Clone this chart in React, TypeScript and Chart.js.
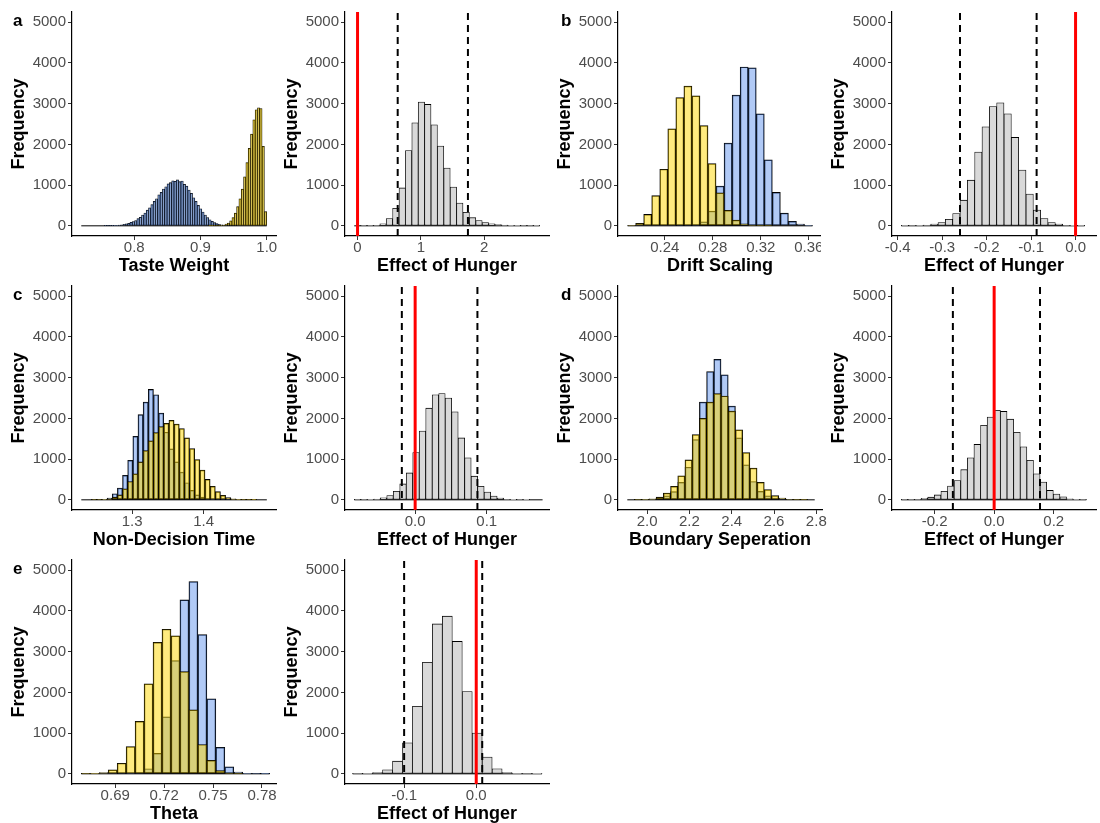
import React, { useEffect, useRef } from "react";
import { Chart, registerables } from "chart.js";

Chart.register(...registerables);

const FONT = '"Liberation Sans", Arial, Helvetica, sans-serif';
const TICK_GREY = "#4D4D4D";
const BLUE_FILL = "rgba(100, 149, 237, 0.5)";
const YELLOW_FILL = "rgba(255, 215, 0, 0.5)";
const GREY_FILL = "rgb(217, 217, 217)";

// Shared frequency axis
const frequencyTicks = [0, 1000, 2000, 3000, 4000, 5000];
const frequencyMin = -250;
const frequencyMax = 5250;

// a — taste weight
const tasteWeightStart = 0.72;
const tasteWeightBin = 0.0035;
const tasteWeightBlue = [
  0, 0, 0, 0, 0, 0, 0, 0, 0, 0,
  1, 2, 4, 6, 9, 13, 18, 26, 36, 48,
  62, 85, 105, 130, 175, 210, 265, 315, 385, 440,
  520, 600, 665, 760, 820, 905, 960, 1030, 1060, 1105,
  1095, 1130, 1085, 1100, 1020, 975, 880, 800, 690, 600,
  500, 420, 340, 265, 205, 150, 110, 80, 55, 38,
  25, 16, 10, 6, 3, 2, 1, 0, 0, 0,
  0, 0, 0, 0, 0, 0, 0, 0, 0, 0,
];
const tasteWeightYellow = [
  0, 0, 0, 0, 0, 0, 0, 0, 0, 0,
  0, 0, 0, 0, 0, 0, 0, 0, 0, 0,
  0, 0, 0, 0, 0, 0, 0, 0, 0, 0,
  0, 0, 0, 0, 0, 0, 0, 0, 0, 0,
  0, 0, 0, 0, 0, 0, 0, 0, 0, 0,
  0, 0, 0, 0, 0, 1, 1, 2, 3, 5,
  10, 20, 40, 70, 120, 200, 310, 470, 660, 900,
  1200, 1550, 1900, 2250, 2600, 2850, 2900, 2880, 1950, 350,
];
const tasteWeightTicks = [0.8, 0.9, 1.0];
const tasteWeightLabels = ["0.8", "0.9", "1.0"];
const tasteWeightRange = [0.706, 1.014];

const tasteEffectStart = -0.052;
const tasteEffectBin = 0.101;
const tasteEffectCounts = [
  0, 2, 5, 15, 50, 180, 430, 930, 1850, 2530, 3040, 2980, 2480, 1960, 1420,
  950, 560, 330, 200, 130, 80, 50, 30, 20, 12, 8, 5, 3, 2,
];
const tasteEffectTicks = [0, 1, 2];
const tasteEffectLabels = ["0", "1", "2"];
const tasteEffectRange = [-0.198, 3.023];
const tasteEffectInterval = [0.634, 1.743];

// b — drift scaling
const driftStart = 0.209;
const driftBin = 0.0067;
const driftBlue = [
  0, 0, 0, 0, 0, 0, 2, 5, 25, 100, 360, 975, 2030, 3210, 3900, 3880, 2750,
  1620, 820, 310, 110, 40, 10,
];
const driftYellow = [
  15, 60, 280, 740, 1390, 2380, 3150, 3430, 3190, 2460, 1530, 810, 380, 140,
  50, 15, 5, 2, 0, 0, 0, 0, 0,
];
const driftTicks = [0.24, 0.28, 0.32, 0.36];
const driftLabels = ["0.24", "0.28", "0.32", "0.36"];
const driftRange = [0.201, 0.371];

const driftEffectStart = -0.392;
const driftEffectBin = 0.0165;
const driftEffectCounts = [
  2, 5, 10, 20, 40, 80, 160, 300, 630, 1120, 1810, 2430, 2930, 3020, 2750,
  2170, 1370, 780, 385, 180, 80, 40, 15, 6, 2,
];
const driftEffectTicks = [-0.4, -0.3, -0.2, -0.1, 0];
const driftEffectLabels = ["-0.4", "-0.3", "-0.2", "-0.1", "0.0"];
const driftEffectRange = [-0.413, 0.046];
const driftEffectInterval = [-0.26, -0.0876];

// c — non-decision time
const ndtStart = 1.229;
const ndtBin = 0.0072;
const ndtBlue = [
  0, 0, 2, 5, 15, 40, 150, 290, 600, 970, 1560, 2090, 2400, 2710, 2580, 2130,
  1660, 1250, 930, 680, 420, 230, 120, 65, 25, 10, 5, 2, 1, 0, 0, 0, 0, 0, 0, 0,
];
const ndtYellow = [
  0, 0, 2, 5, 10, 25, 65, 120, 270, 450, 640, 930, 1210, 1450, 1650, 1800,
  1880, 1950, 1860, 1750, 1520, 1260, 990, 730, 500, 330, 200, 110, 55, 25, 10,
  4, 2, 1, 0, 0,
];
const ndtTicks = [1.3, 1.4];
const ndtLabels = ["1.3", "1.4"];
const ndtRange = [1.216, 1.501];

const ndtEffectStart = -0.085;
const ndtEffectBin = 0.00907;
const ndtEffectCounts = [
  2, 4, 8, 20, 50, 105, 210, 390, 660, 1160, 1690, 2250, 2580, 2610, 2500,
  2160, 1520, 1030, 580, 330, 190, 90, 40, 15, 6, 3, 1, 0, 0,
];
const ndtEffectTicks = [0, 0.1];
const ndtEffectLabels = ["0.0", "0.1"];
const ndtEffectRange = [-0.098, 0.187];
const ndtEffectInterval = [-0.0186, 0.087];

// d — boundary separation
const boundaryStart = 1.906;
const boundaryBin = 0.0341;
const boundaryBlue = [
  0, 2, 5, 15, 40, 100, 200, 430, 800, 1480, 2400, 3150, 3450, 3070, 2300,
  1520, 860, 450, 210, 100, 40, 15, 5, 2, 0, 0,
];
const boundaryYellow = [
  0, 2, 8, 25, 65, 165, 330, 590, 980, 1600, 2000, 2400, 2610, 2550, 2180,
  1720, 1160, 780, 430, 250, 105, 40, 15, 5, 2, 0,
];
const boundaryTicks = [2.0, 2.2, 2.4, 2.6, 2.8];
const boundaryLabels = ["2.0", "2.2", "2.4", "2.6", "2.8"];
const boundaryRange = [1.862, 2.827];

const boundaryEffectStart = -0.312;
const boundaryEffectBin = 0.0222;
const boundaryEffectCounts = [
  2, 5, 15, 35, 65, 120, 210, 340, 475, 740, 1030, 1360, 1830, 2030, 2200,
  2170, 1980, 1660, 1300, 970, 640, 435, 230, 140, 75, 25, 10, 3,
];
const boundaryEffectTicks = [-0.2, 0, 0.2];
const boundaryEffectLabels = ["-0.2", "0.0", "0.2"];
const boundaryEffectRange = [-0.343, 0.342];
const boundaryEffectInterval = [-0.1386, 0.154];

// e — theta
const thetaStart = 0.6692;
const thetaBin = 0.0055;
const thetaBlue = [
  0, 0, 0, 0, 3, 10, 30, 125, 500, 1400, 2780, 4270, 4720, 3420, 1840, 650,
  170, 40, 10, 3, 1,
];
const thetaYellow = [
  3, 10, 30, 100, 260, 670, 1290, 2210, 3230, 3550, 3390, 2510, 1570, 720,
  330, 80, 20, 5, 0, 0, 0,
];
const thetaTicks = [0.69, 0.72, 0.75, 0.78];
const thetaLabels = ["0.69", "0.72", "0.75", "0.78"];
const thetaRange = [0.6635, 0.7886];

const thetaEffectStart = -0.1714;
const thetaEffectBin = 0.01382;
const thetaEffectCounts = [
  3, 10, 30, 100, 310, 760, 1660, 2740, 3680, 3870, 3250, 2020, 1000, 410,
  125, 30, 10, 3, 1,
];
const thetaEffectTicks = [-0.1, 0];
const thetaEffectLabels = ["-0.1", "0.0"];
const thetaEffectRange = [-0.182, 0.1009];
const thetaEffectInterval = [-0.1, 0.0083];

const noEffect = 0;

// Page grid
const COLUMN_LEFT = [0, 273, 546, 820];
const COLUMN_W = [283, 283, 283, 280];
const ROW_TOP = [0, 274, 548];
const CELL_H = 280;
const AXIS_W = 72;
const PLOT_W = 204;
const PLOT_TOP = 12;
const PLOT_H = 224;
const X_AXIS_H = CELL_H - PLOT_TOP - PLOT_H;

type Series = { counts: number[]; fill: string };
type PanelSpec = {
  col: number;
  row: number;
  xTitle: string;
  range: number[];
  ticks: number[];
  labels: string[];
  start: number;
  bin: number;
  series: Series[];
  border: number;
  interval?: number[];
  visibleW?: number;
};

const panels: PanelSpec[] = [
  {
    col: 0, row: 0, xTitle: "Taste Weight", range: tasteWeightRange,
    ticks: tasteWeightTicks, labels: tasteWeightLabels,
    start: tasteWeightStart, bin: tasteWeightBin, border: 0.5,
    series: [
      { counts: tasteWeightBlue, fill: BLUE_FILL },
      { counts: tasteWeightYellow, fill: YELLOW_FILL },
    ],
  },
  {
    col: 1, row: 0, xTitle: "Effect of Hunger", range: tasteEffectRange,
    ticks: tasteEffectTicks, labels: tasteEffectLabels,
    start: tasteEffectStart, bin: tasteEffectBin, border: 0.8,
    series: [{ counts: tasteEffectCounts, fill: GREY_FILL }],
    interval: tasteEffectInterval,
  },
  {
    col: 2, row: 0, xTitle: "Drift Scaling", range: driftRange,
    ticks: driftTicks, labels: driftLabels,
    start: driftStart, bin: driftBin, border: 0.8,
    series: [
      { counts: driftBlue, fill: BLUE_FILL },
      { counts: driftYellow, fill: YELLOW_FILL },
    ],
    // the neighbouring panel covers the tail of the last tick label
    visibleW: 275,
  },
  {
    col: 3, row: 0, xTitle: "Effect of Hunger", range: driftEffectRange,
    ticks: driftEffectTicks, labels: driftEffectLabels,
    start: driftEffectStart, bin: driftEffectBin, border: 0.8,
    series: [{ counts: driftEffectCounts, fill: GREY_FILL }],
    interval: driftEffectInterval,
  },
  {
    col: 0, row: 1, xTitle: "Non-Decision Time", range: ndtRange,
    ticks: ndtTicks, labels: ndtLabels,
    start: ndtStart, bin: ndtBin, border: 0.8,
    series: [
      { counts: ndtBlue, fill: BLUE_FILL },
      { counts: ndtYellow, fill: YELLOW_FILL },
    ],
  },
  {
    col: 1, row: 1, xTitle: "Effect of Hunger", range: ndtEffectRange,
    ticks: ndtEffectTicks, labels: ndtEffectLabels,
    start: ndtEffectStart, bin: ndtEffectBin, border: 0.8,
    series: [{ counts: ndtEffectCounts, fill: GREY_FILL }],
    interval: ndtEffectInterval,
  },
  {
    col: 2, row: 1, xTitle: "Boundary Seperation", range: boundaryRange,
    ticks: boundaryTicks, labels: boundaryLabels,
    start: boundaryStart, bin: boundaryBin, border: 0.8,
    series: [
      { counts: boundaryBlue, fill: BLUE_FILL },
      { counts: boundaryYellow, fill: YELLOW_FILL },
    ],
  },
  {
    col: 3, row: 1, xTitle: "Effect of Hunger", range: boundaryEffectRange,
    ticks: boundaryEffectTicks, labels: boundaryEffectLabels,
    start: boundaryEffectStart, bin: boundaryEffectBin, border: 0.8,
    series: [{ counts: boundaryEffectCounts, fill: GREY_FILL }],
    interval: boundaryEffectInterval,
  },
  {
    col: 0, row: 2, xTitle: "Theta", range: thetaRange,
    ticks: thetaTicks, labels: thetaLabels,
    start: thetaStart, bin: thetaBin, border: 0.8,
    series: [
      { counts: thetaBlue, fill: BLUE_FILL },
      { counts: thetaYellow, fill: YELLOW_FILL },
    ],
  },
  {
    col: 1, row: 2, xTitle: "Effect of Hunger", range: thetaEffectRange,
    ticks: thetaEffectTicks, labels: thetaEffectLabels,
    start: thetaEffectStart, bin: thetaEffectBin, border: 0.8,
    series: [{ counts: thetaEffectCounts, fill: GREY_FILL }],
    interval: thetaEffectInterval,
  },
];

const panelLetters = [
  { text: "a", left: 13, top: 12 },
  { text: "b", left: 561, top: 12 },
  { text: "c", left: 13, top: 286 },
  { text: "d", left: 561, top: 286 },
  { text: "e", left: 13, top: 560 },
];

function vertical(x: number, color: string, width: number, dash: number[]) {
  return {
    type: "line",
    data: [
      { x, y: frequencyMin },
      { x, y: frequencyMax },
    ],
    borderColor: color,
    borderWidth: width,
    borderDash: dash,
    pointRadius: 0,
    order: 0,
  };
}

function buildConfig(p: PanelSpec): any {
  const n = p.series[0].counts.length;
  const centre = (i: number) => p.start + p.bin * (i + 0.5);
  const cellW = COLUMN_W[p.col];
  const datasets: any[] = [];

  // zero-count bins show as a flat line along the baseline
  datasets.push({
    type: "line",
    data: [
      { x: p.start, y: 0 },
      { x: p.start + p.bin * n, y: 0 },
    ],
    borderColor: "#000",
    borderWidth: 1,
    pointRadius: 0,
    order: 5,
  });

  p.series.forEach((s, k) => {
    datasets.push({
      type: "bar",
      data: s.counts.map((y, i) => ({ x: centre(i), y })),
      backgroundColor: s.fill,
      borderColor: "#000",
      borderWidth: p.border,
      borderSkipped: false,
      grouped: false,
      barPercentage: 1,
      categoryPercentage: 1,
      order: p.series.length - k,
    });
  });

  if (p.interval) {
    p.interval.forEach((x) => datasets.push(vertical(x, "#000", 2, [7, 5])));
    datasets.push(vertical(noEffect, "#FF0000", 3, []));
  }

  const tickFont = { family: FONT, size: 15, lineHeight: 1 };
  const titleFont = { family: FONT, size: 18, weight: "bold", lineHeight: 1 };
  const grid = {
    display: true,
    drawOnChartArea: false,
    drawTicks: true,
    tickLength: 4,
    tickColor: "#333333",
    tickWidth: 1,
    offset: false,
  };
  const border = { display: true, color: "#000", width: 1.2 };

  return {
    type: "bar",
    data: { datasets },
    options: {
      responsive: false,
      animation: false,
      events: [],
      layout: {
        padding: { left: 0, top: PLOT_TOP, right: cellW - AXIS_W - PLOT_W, bottom: 0 },
      },
      plugins: {
        legend: { display: false },
        tooltip: { enabled: false },
        title: { display: false },
      },
      scales: {
        x: {
          type: "linear",
          min: p.range[0],
          max: p.range[1],
          offset: false,
          grid,
          border,
          ticks: {
            autoSkip: false,
            maxRotation: 0,
            minRotation: 0,
            padding: 0,
            color: TICK_GREY,
            font: tickFont,
            callback: (_v: number, i: number) => p.labels[i],
          },
          title: {
            display: true,
            text: p.xTitle,
            color: "#000",
            font: titleFont,
            padding: { top: 0, bottom: 5 },
          },
          afterBuildTicks: (s: any) => {
            s.ticks = p.ticks.map((value) => ({ value }));
          },
          afterFit: (s: any) => {
            s.height = X_AXIS_H;
            s.paddingLeft = 0;
            s.paddingRight = 0;
          },
        },
        y: {
          type: "linear",
          min: frequencyMin,
          max: frequencyMax,
          grid,
          border,
          ticks: {
            padding: 2,
            color: TICK_GREY,
            font: tickFont,
            callback: (v: number) => String(v),
          },
          title: {
            display: true,
            text: "Frequency",
            color: "#000",
            font: titleFont,
            padding: { top: 10, bottom: 0 },
          },
          afterBuildTicks: (s: any) => {
            s.ticks = frequencyTicks.map((value) => ({ value }));
          },
          afterFit: (s: any) => {
            s.width = AXIS_W;
            s.paddingTop = 0;
            s.paddingBottom = 0;
          },
        },
      },
    },
  };
}

function HistogramPanel({ spec }: { spec: PanelSpec }) {
  const ref = useRef<HTMLCanvasElement | null>(null);
  const w = COLUMN_W[spec.col];
  useEffect(() => {
    if (!ref.current) return;
    const chart = new Chart(ref.current, buildConfig(spec));
    return () => chart.destroy();
  }, [spec]);
  return (
    <div
      style={{
        position: "absolute",
        left: COLUMN_LEFT[spec.col],
        top: ROW_TOP[spec.row],
        width: spec.visibleW ?? w,
        height: CELL_H,
        overflow: "hidden",
      }}
    >
      <canvas
        ref={ref}
        width={w}
        height={CELL_H}
        style={{ display: "block", width: w, height: CELL_H }}
      />
    </div>
  );
}

export default function App() {
  Chart.defaults.font.family = FONT;
  return (
    <div
      style={{
        position: "fixed",
        left: 0,
        top: 0,
        width: 1100,
        height: 823,
        overflow: "hidden",
        background: "#fff",
        fontFamily: FONT,
      }}
    >
      {panels.map((p, i) => (
        <HistogramPanel key={i} spec={p} />
      ))}
      {panelLetters.map((l) => (
        <div
          key={l.text}
          style={{
            position: "absolute",
            left: l.left,
            top: l.top,
            fontSize: 17,
            lineHeight: "17px",
            fontWeight: "bold",
            color: "#000",
          }}
        >
          {l.text}
        </div>
      ))}
    </div>
  );
}
